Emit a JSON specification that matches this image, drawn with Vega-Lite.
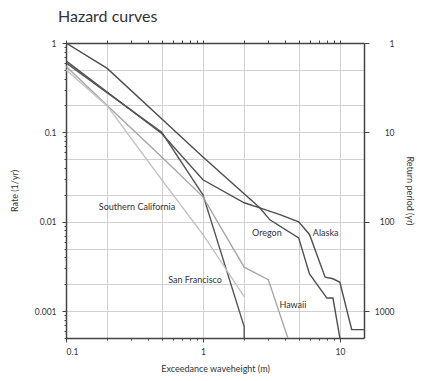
{
  "$schema": "https://vega.github.io/schema/vega-lite/v6.json",
  "autosize": "none",
  "width": 298,
  "height": 295,
  "padding": {"left": 66, "top": 43, "right": 60, "bottom": 43},
  "background": "white",
  "title": {"text": "Hazard curves", "anchor": "start", "frame": "group", "dx": -8, "offset": 14, "fontSize": 16, "font": "Lato", "fontWeight": "normal", "color": "#333333"},
  "config": {
    "view": {"stroke": null},
    "font": "Lato",
    "axis": {"labelFont": "Lato", "labelFontSize": 8.5, "labelColor": "#333333", "titleFont": "Lato", "titleFontSize": 9, "titleFontWeight": "normal", "titleColor": "#333333", "domainColor": "#444444", "domainWidth": 1.5, "tickColor": "#444444", "gridColor": "#d0d0d0", "gridWidth": 1}
  },
  "datasets": {
    "curves": [
      {"series": "Oregon", "i": 0, "h": 0.1, "rate": 1},
      {"series": "Oregon", "i": 1, "h": 0.2, "rate": 0.52},
      {"series": "Oregon", "i": 2, "h": 1, "rate": 0.053},
      {"series": "Oregon", "i": 3, "h": 2.6, "rate": 0.0143},
      {"series": "Oregon", "i": 4, "h": 3.08, "rate": 0.0105},
      {"series": "Oregon", "i": 5, "h": 5, "rate": 0.0066},
      {"series": "Oregon", "i": 6, "h": 6, "rate": 0.0026},
      {"series": "Oregon", "i": 7, "h": 8.04, "rate": 0.0014},
      {"series": "Oregon", "i": 8, "h": 8.9, "rate": 0.0014},
      {"series": "Oregon", "i": 9, "h": 10, "rate": 0.0005},
      {"series": "Alaska", "i": 0, "h": 0.1, "rate": 0.63},
      {"series": "Alaska", "i": 1, "h": 0.5, "rate": 0.097},
      {"series": "Alaska", "i": 2, "h": 1, "rate": 0.0295},
      {"series": "Alaska", "i": 3, "h": 2, "rate": 0.0163},
      {"series": "Alaska", "i": 4, "h": 2.6, "rate": 0.0143},
      {"series": "Alaska", "i": 5, "h": 3.65, "rate": 0.012},
      {"series": "Alaska", "i": 6, "h": 5, "rate": 0.01},
      {"series": "Alaska", "i": 7, "h": 6, "rate": 0.0072},
      {"series": "Alaska", "i": 8, "h": 7.8, "rate": 0.0024},
      {"series": "Alaska", "i": 9, "h": 8.9, "rate": 0.0023},
      {"series": "Alaska", "i": 10, "h": 10, "rate": 0.0021},
      {"series": "Alaska", "i": 11, "h": 12.2, "rate": 0.00062},
      {"series": "Alaska", "i": 12, "h": 15, "rate": 0.00062},
      {"series": "San Francisco", "i": 0, "h": 0.1, "rate": 0.6},
      {"series": "San Francisco", "i": 1, "h": 0.5, "rate": 0.1},
      {"series": "San Francisco", "i": 2, "h": 1, "rate": 0.02},
      {"series": "San Francisco", "i": 3, "h": 2, "rate": 0.00067},
      {"series": "San Francisco", "i": 4, "h": 2, "rate": 0.0005},
      {"series": "Hawaii", "i": 0, "h": 0.1, "rate": 0.55},
      {"series": "Hawaii", "i": 1, "h": 0.2, "rate": 0.2},
      {"series": "Hawaii", "i": 2, "h": 0.5, "rate": 0.053},
      {"series": "Hawaii", "i": 3, "h": 1, "rate": 0.019},
      {"series": "Hawaii", "i": 4, "h": 2, "rate": 0.0031},
      {"series": "Hawaii", "i": 5, "h": 3, "rate": 0.00225},
      {"series": "Hawaii", "i": 6, "h": 4.17, "rate": 0.0005},
      {"series": "Southern California", "i": 0, "h": 0.1, "rate": 0.5},
      {"series": "Southern California", "i": 1, "h": 0.2, "rate": 0.198},
      {"series": "Southern California", "i": 2, "h": 0.5, "rate": 0.0295},
      {"series": "Southern California", "i": 3, "h": 1, "rate": 0.0072},
      {"series": "Southern California", "i": 4, "h": 2, "rate": 0.00145}
    ],
    "labels": [
      {"label": "Southern California", "h": 0.33, "rate": 0.0147},
      {"label": "San Francisco", "h": 0.875, "rate": 0.00225},
      {"label": "Oregon", "h": 2.93, "rate": 0.0075},
      {"label": "Alaska", "h": 7.87, "rate": 0.0075},
      {"label": "Hawaii", "h": 4.54, "rate": 0.00118}
    ]
  },
  "layer": [
    {
      "data": {"name": "curves"},
      "mark": {"type": "point", "opacity": 0},
      "encoding": {
        "x": {"field": "h", "type": "quantitative", "scale": {"type": "log", "domain": [0.1, 15], "nice": false},
          "axis": {"orient": "bottom", "values": [0.2, 0.5, 1, 2, 5, 10], "grid": true, "domain": false, "ticks": false, "labels": false, "title": null}},
        "y": {"field": "rate", "type": "quantitative", "scale": {"type": "log", "domain": [0.0005, 1], "nice": false},
          "axis": {"orient": "left", "values": [1, 0.5, 0.2, 0.1, 0.05, 0.02, 0.01, 0.005, 0.002, 0.001], "grid": true, "domain": false, "ticks": false, "labels": false, "title": null}}
      }
    },
    {
      "data": {"name": "curves"},
      "mark": {"type": "point", "opacity": 0},
      "encoding": {
        "x": {"field": "h", "type": "quantitative", "scale": {"type": "log", "domain": [0.1, 15], "nice": false},
          "axis": {"orient": "top", "values": [0.1, 0.2, 0.3, 0.4, 0.5, 0.6, 0.7, 0.8, 0.9, 1, 2, 3, 4, 5, 6, 7, 8, 9, 10], "grid": false, "domain": true, "ticks": true, "tickSize": 3, "labels": false, "title": null}},
        "y": {"field": "rate", "type": "quantitative", "scale": {"type": "log", "domain": [0.0005, 1], "nice": false},
          "axis": {"orient": "left", "values": [0.9, 0.8, 0.7, 0.6, 0.5, 0.4, 0.3, 0.2, 0.09, 0.08, 0.07, 0.06, 0.05, 0.04, 0.03, 0.02, 0.009, 0.008, 0.007, 0.006, 0.005, 0.004, 0.003, 0.002, 0.0009, 0.0008, 0.0007, 0.0006, 0.0005], "grid": false, "domain": false, "ticks": true, "tickSize": 2, "labels": false, "title": null}}
      }
    },
    {
      "data": {"name": "curves"},
      "mark": {"type": "point", "opacity": 0},
      "encoding": {
        "x": {"field": "h", "type": "quantitative", "scale": {"type": "log", "domain": [0.1, 15], "nice": false},
          "axis": {"orient": "bottom", "values": [0.2, 0.3, 0.4, 0.5, 0.6, 0.7, 0.8, 0.9, 2, 3, 4, 5, 6, 7, 8, 9], "grid": false, "domain": false, "ticks": true, "tickSize": 2, "labels": false, "title": null}},
        "y": {"field": "rate", "type": "quantitative", "scale": {"type": "log", "domain": [0.0005, 1], "nice": false}, "axis": null}
      }
    },
    {
      "data": {"name": "curves"},
      "mark": {"type": "line", "strokeWidth": 1.4, "clip": true},
      "encoding": {
        "x": {"field": "h", "type": "quantitative", "scale": {"type": "log", "domain": [0.1, 15], "nice": false},
          "axis": {"orient": "bottom", "values": [0.1, 1, 10], "format": "~g", "grid": false, "domain": true, "tickSize": 4, "labelPadding": 5, "title": "Exceedance waveheight (m)", "titlePadding": 9}},
        "y": {"field": "rate", "type": "quantitative", "scale": {"type": "log", "domain": [0.0005, 1], "nice": false},
          "axis": {"orient": "left", "values": [1, 0.1, 0.01, 0.001], "format": "~g", "grid": false, "domain": true, "tickSize": 4, "labelPadding": 6, "title": "Rate (1/yr)", "titlePadding": 15}},
        "color": {"field": "series", "type": "nominal", "legend": null,
          "scale": {"domain": ["Oregon", "Alaska", "San Francisco", "Hawaii", "Southern California"], "range": ["#4e4e4e", "#4e4e4e", "#555555", "#a6a6a6", "#c4c4c4"]}},
        "order": {"field": "i", "type": "quantitative"}
      }
    },
    {
      "data": {"name": "labels"},
      "mark": {"type": "text", "fontSize": 9, "font": "Lato", "color": "#333333", "align": "center", "baseline": "middle"},
      "encoding": {
        "x": {"field": "h", "type": "quantitative", "scale": {"type": "log", "domain": [0.1, 15], "nice": false}, "axis": null},
        "y": {"field": "rate", "type": "quantitative", "scale": {"type": "log", "domain": [0.0005, 1], "nice": false}, "axis": null},
        "text": {"field": "label", "type": "nominal"}
      }
    },
    {
      "data": {"name": "labels"},
      "mark": {"type": "point", "opacity": 0},
      "encoding": {
        "y": {"datum": 10, "type": "quantitative", "scale": {"type": "log", "domain": [1, 2000], "reverse": true, "nice": false},
          "axis": {"orient": "right", "values": [1, 10, 100, 1000], "format": "~g", "grid": false, "domain": true, "tickSize": 5, "labelAlign": "right", "labelPadding": 25, "title": "Return period (yr)", "titlePadding": 10}}
      }
    }
  ],
  "resolve": {"scale": {"y": "independent"}, "axis": {"x": "independent", "y": "independent"}}
}
